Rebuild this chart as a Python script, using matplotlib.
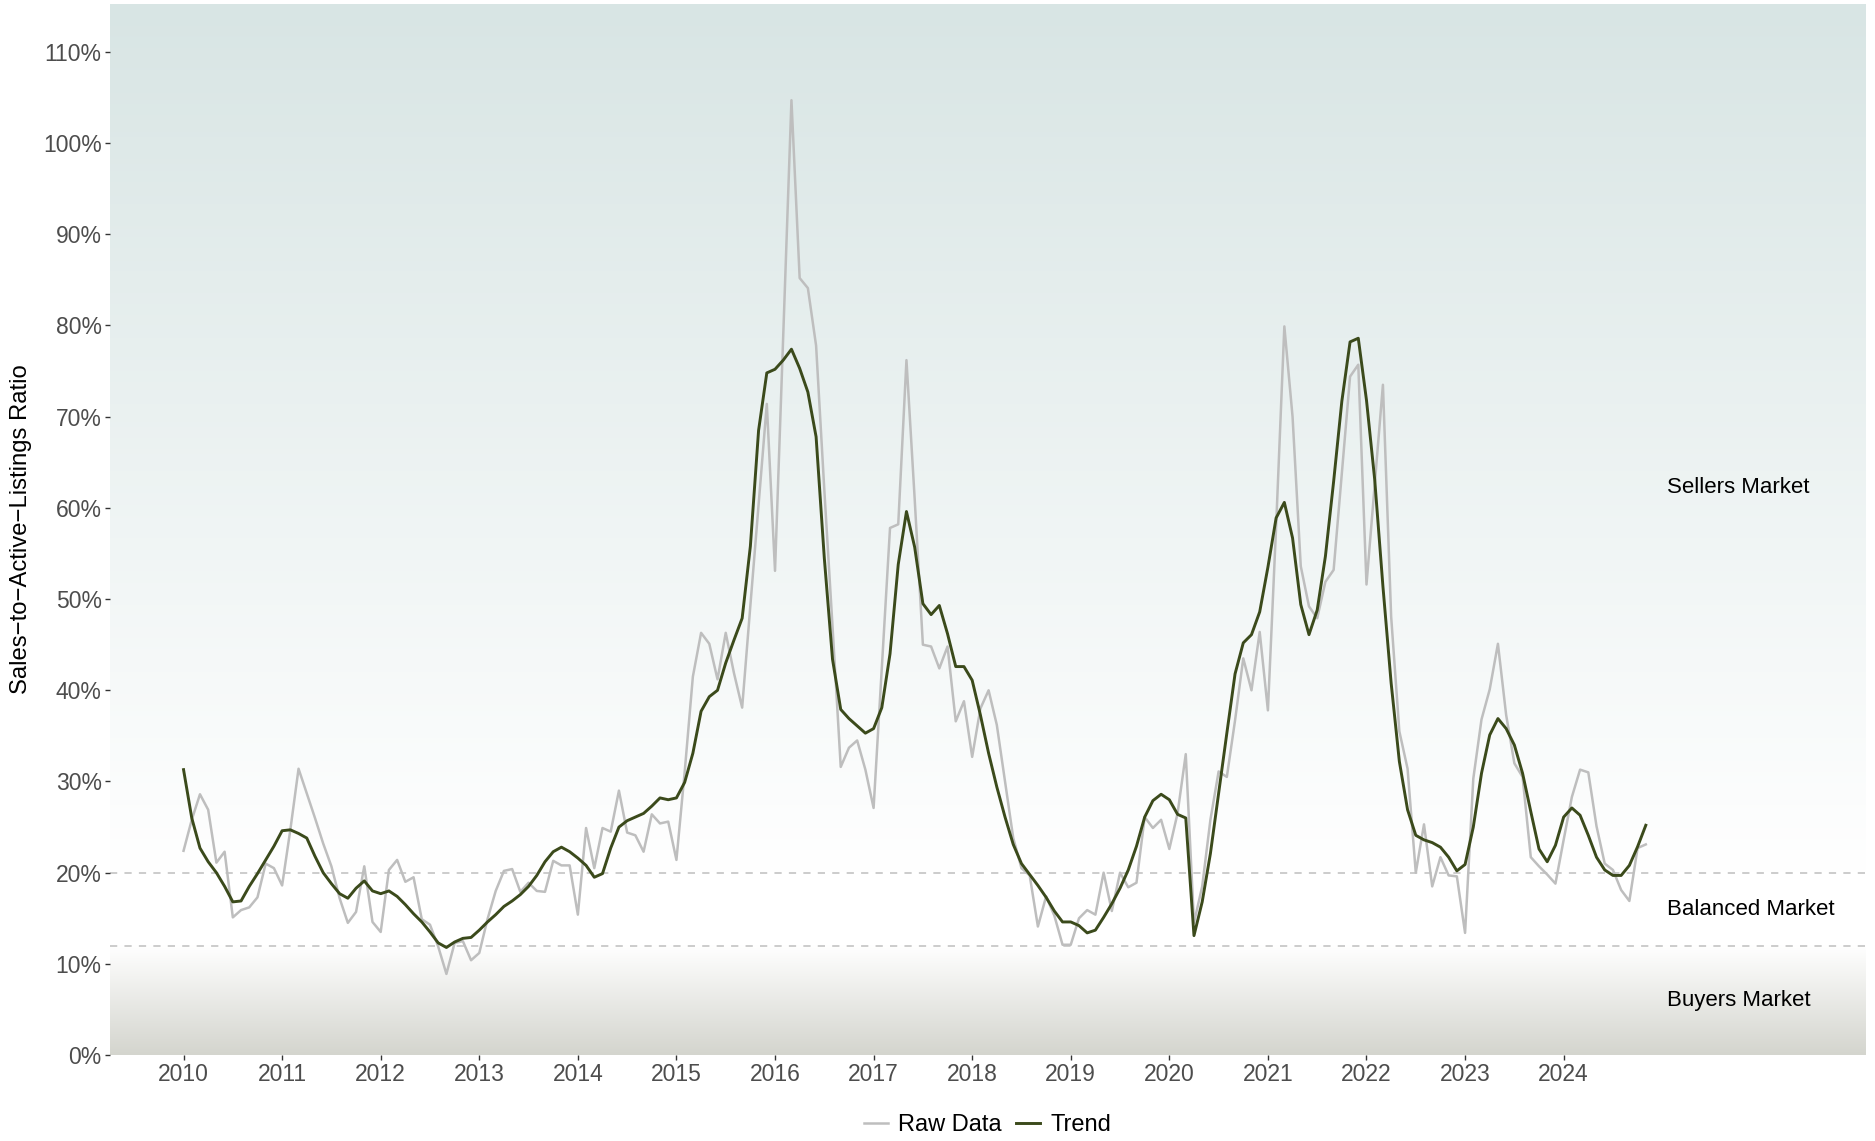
import numpy as np
import pandas as pd
import matplotlib
matplotlib.use("Agg")
import matplotlib.pyplot as plt
from matplotlib.ticker import PercentFormatter, FixedLocator
from matplotlib.colors import to_rgb

plt.rcParams['font.family'] = ['Liberation Sans', 'DejaVu Sans']

# ---------------- data (monthly, Jan 2010 - Nov 2024) ----------------
start_month = "2010-01"
raw_data = [
    22.4, 25.8, 28.6, 26.9, 21.1, 22.3, 15.1, 15.9, 16.2, 17.3, 21.0, 20.5,   # 2010
    18.6, 24.7, 31.4, 28.7, 26.0, 23.2, 20.7, 17.2, 14.5, 15.7, 20.7, 14.6,   # 2011
    13.5, 20.3, 21.4, 19.0, 19.5, 14.9, 14.3, 11.9, 8.9, 12.3, 12.5, 10.4,    # 2012
    11.2, 14.9, 18.0, 20.2, 20.4, 17.9, 18.9, 18.0, 17.9, 21.3, 20.8, 20.8,   # 2013
    15.4, 24.9, 20.5, 24.9, 24.5, 29.0, 24.4, 24.1, 22.3, 26.4, 25.4, 25.6,   # 2014
    21.4, 31.0, 41.5, 46.3, 45.1, 41.2, 46.3, 41.9, 38.1, 49.3, 60.3, 71.4,   # 2015
    53.1, 79.0, 104.7, 85.2, 84.1, 77.8, 62.0, 47.0, 31.6, 33.7, 34.5, 31.3,  # 2016
    27.1, 42.5, 57.8, 58.2, 76.2, 61.0, 45.0, 44.8, 42.4, 44.8, 36.6, 38.8,   # 2017
    32.7, 38.0, 40.0, 36.2, 30.0, 23.8, 20.5, 19.7, 14.1, 17.4, 15.3, 12.1,   # 2018
    12.1, 15.0, 15.9, 15.4, 20.0, 15.8, 20.0, 18.4, 18.9, 26.1, 24.9, 25.8,   # 2019
    22.6, 26.5, 33.0, 14.5, 18.5, 25.8, 31.1, 30.5, 36.7, 43.5, 40.0, 46.4,   # 2020
    37.8, 58.0, 79.9, 70.0, 53.6, 49.2, 47.9, 51.9, 53.2, 63.8, 74.4, 75.7,   # 2021
    51.6, 62.5, 73.5, 48.1, 35.5, 31.4, 20.0, 25.3, 18.5, 21.7, 19.7, 19.6,   # 2022
    13.4, 30.3, 36.8, 40.1, 45.1, 37.3, 32.0, 30.5, 21.7, 20.7, 19.8, 18.8,   # 2023
    23.6, 28.3, 31.3, 31.0, 25.1, 21.0, 20.3, 18.1, 16.9, 22.7, 23.1,         # 2024
]
trend = [
    31.3, 26.0, 22.7, 21.2, 20.0, 18.5, 16.8, 16.9, 18.5, 19.9, 21.4, 22.9,   # 2010
    24.6, 24.7, 24.3, 23.8, 21.8, 20.0, 18.8, 17.7, 17.2, 18.3, 19.1, 18.0,   # 2011
    17.7, 18.0, 17.4, 16.5, 15.5, 14.6, 13.5, 12.3, 11.8, 12.4, 12.8, 12.9,   # 2012
    13.7, 14.6, 15.4, 16.3, 16.9, 17.6, 18.5, 19.7, 21.2, 22.3, 22.8, 22.3,   # 2013
    21.6, 20.8, 19.5, 19.9, 22.7, 25.0, 25.7, 26.1, 26.5, 27.3, 28.2, 28.0,   # 2014
    28.2, 29.9, 33.1, 37.7, 39.3, 40.0, 43.0, 45.5, 47.9, 55.8, 68.5, 74.8,   # 2015
    75.2, 76.2, 77.4, 75.3, 72.7, 67.8, 54.5, 43.4, 37.9, 36.9, 36.1, 35.3,   # 2016
    35.8, 38.1, 44.0, 53.8, 59.6, 55.7, 49.5, 48.3, 49.3, 46.2, 42.6, 42.6,   # 2017
    41.1, 37.3, 33.1, 29.4, 26.1, 23.1, 21.0, 19.8, 18.6, 17.3, 15.8, 14.6,   # 2018
    14.6, 14.2, 13.4, 13.7, 15.1, 16.6, 18.3, 20.3, 22.9, 26.1, 27.9, 28.6,   # 2019
    28.0, 26.4, 26.0, 13.1, 16.8, 22.1, 28.7, 35.3, 41.8, 45.2, 46.1, 48.6,   # 2020
    53.5, 58.9, 60.6, 56.7, 49.4, 46.1, 48.8, 54.7, 62.9, 71.7, 78.2, 78.6,   # 2021
    71.8, 63.1, 51.4, 40.8, 32.2, 26.9, 24.1, 23.6, 23.3, 22.8, 21.7, 20.2,   # 2022
    20.9, 25.0, 30.9, 35.1, 36.9, 35.8, 34.0, 30.9, 26.7, 22.6, 21.2, 23.0,   # 2023
    26.1, 27.1, 26.3, 24.1, 21.7, 20.3, 19.7, 19.7, 20.8, 22.85, 25.2,        # 2024
]
year_ticks = list(range(2010, 2025))
pct_ticks = [0, 10, 20, 30, 40, 50, 60, 70, 80, 90, 100, 110]
thresholds = [20, 12]
zone_labels = ["Sellers Market", "Balanced Market", "Buyers Market"]
zone_label_y = [62.2, 16.0, 6.0]
series_names = ["Raw Data", "Trend"]

# ---------------- derived ----------------
dates = pd.date_range(start_month, periods=len(raw_data), freq="MS")
x = dates.year + (dates.month - 1) / 12.0
raw = np.array(raw_data) / 100.0
tr = np.array(trend) / 100.0

W, H = 1875, 1141
fig = plt.figure(figsize=(W / 100, H / 100), dpi=100)
L, R, T, B = 110, 1865.5, 4, 1055.1
ax = fig.add_axes([L / W, 1 - B / H, (R - L) / W, (B - T) / H])

xmin, xmax = 2009.254, 2027.062
ymin, ymax = 0.0, 1.1525
ax.set_xlim(xmin, xmax)
ax.set_ylim(ymin, ymax)

# ---------------- gradient background ----------------
n = 1200
yy = np.linspace(ymax, ymin, n)
top_col = np.array(to_rgb("#d8e5e4"))
bot_col = np.array(to_rgb("#d4d5ce"))
white = np.array([1.0, 1.0, 1.0])
img = np.zeros((n, 1, 3))
for i, v in enumerate(yy):
    if v >= 0.20:
        t = (v - 0.20) / (ymax - 0.20)
        c = white * (1 - t) + top_col * t
    elif v >= 0.12:
        c = white
    else:
        t = (0.12 - v) / 0.12
        c = white * (1 - t) + bot_col * t
    img[i, 0] = c
ax.imshow(img, aspect="auto", extent=[xmin, xmax, ymin, ymax], zorder=0,
          interpolation="bilinear")

# threshold lines
for th in thresholds:
    ax.axhline(th / 100.0, color="#c8c8c8", lw=1.3, ls=(0, (4, 4)), zorder=1)

# series
l1, = ax.plot(x, raw, color="#bebebe", lw=1.8, zorder=2, label=series_names[0])
l2, = ax.plot(x, tr, color="#3b4a1b", lw=2.1, zorder=3, label=series_names[1])

# zone labels
for lab, yv in zip(zone_labels, zone_label_y):
    ax.text(2025.05, yv / 100.0, lab, ha="left", va="center", fontsize=16,
            color="black", zorder=4)

# axes styling
for s in ax.spines.values():
    s.set_visible(False)
ax.xaxis.set_major_locator(FixedLocator(year_ticks))
ax.set_xticklabels([str(y) for y in year_ticks])
ax.yaxis.set_major_locator(FixedLocator([p / 100 for p in pct_ticks]))
ax.yaxis.set_major_formatter(PercentFormatter(1.0, decimals=0))
ax.tick_params(axis="both", length=3.5, width=1.0, color="#333333",
               labelcolor="#4d4d4d", labelsize=16.5, pad=2.5)

fig.text(21.5 / W, 1 - 529.5 / H, "Sales\u2212to\u2212Active\u2212Listings Ratio",
         rotation=90, ha="center", va="center", fontsize=17.2, color="black")

fig.legend(handles=[l1, l2], labels=series_names, loc="center",
           bbox_to_anchor=((L + R) / 2 / W, 1 - 1125 / H), ncol=2, frameon=False,
           fontsize=17, handlelength=1.0, handletextpad=0.45, columnspacing=0.6)

fig.savefig("out.png", dpi=100)
